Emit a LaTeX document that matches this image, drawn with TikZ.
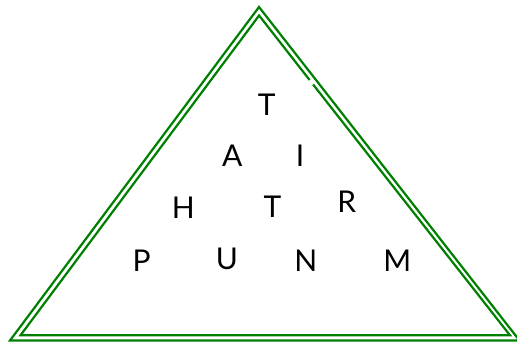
\documentclass[tikz,border=0pt]{standalone}
\usepackage{fontspec}
\setmainfont{Lato}
\definecolor{tgreen}{RGB}{0,128,0}
\begin{document}
\begin{tikzpicture}[x=1pt,y=-1pt,
  edge/.style={draw=tgreen,line width=2.2pt,line join=miter},
  letter/.style={inner sep=0pt,font=\fontsize{30}{32}\selectfont}]
\useasboundingbox (0,0) rectangle (517,344);
\clip (0,0) rectangle (517,344);
% outer triangle
\coordinate (oA) at (259,7);
\coordinate (oB) at (10,340.5);
\coordinate (oC) at (519.5,340.5);
\draw[edge] (oA) -- (oB) -- (oC) -- cycle;
% inner triangle (with small break on the right edge)
\coordinate (iA) at (259.1,15.5);
\coordinate (iB) at (20.5,335.3);
\coordinate (iC) at (510,335.3);
\coordinate (g1) at (309.6,80);
\coordinate (g2) at (313.1,84.5);
\draw[edge] (g1) -- (iA) -- (iB) -- (iC) -- (g2);
% letters
\node[letter] (t1) at (266.7,105) {T};
\node[letter] (a)  at (232.2,155.5) {A};
\node[letter] (i)  at (300,155.7) {I};
\node[letter] (h)  at (183.3,208) {H};
\node[letter] (t2) at (272.4,207) {T};
\node[letter] (r)  at (346.7,201.7) {R};
\node[letter] (p)  at (141.7,260.3) {P};
\node[letter] (u)  at (227,258.7) {U};
\node[letter] (n)  at (305.7,260.3) {N};
\node[letter] (m)  at (397.3,260.3) {M};
\end{tikzpicture}
\end{document}
